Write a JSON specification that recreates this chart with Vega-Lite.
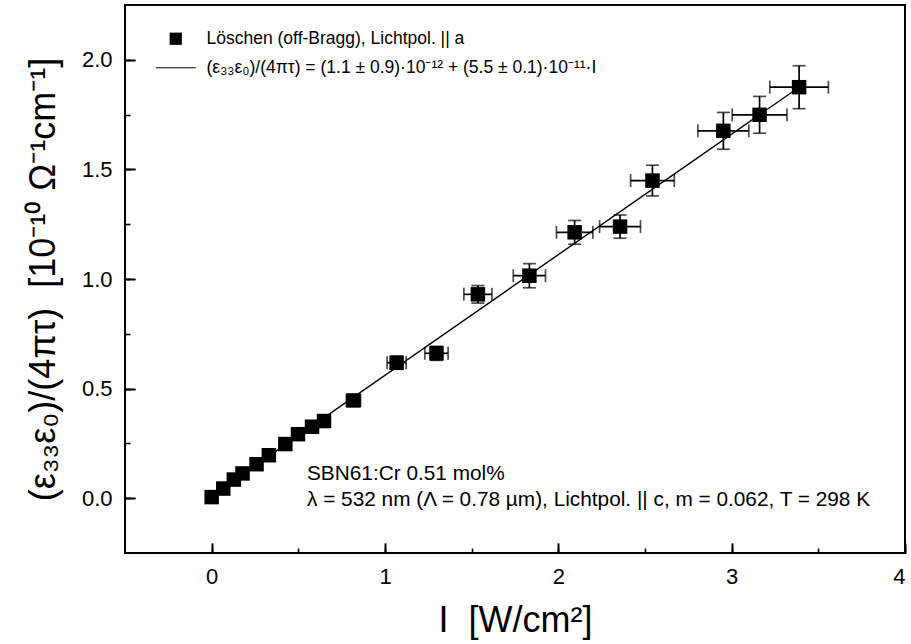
{
  "$schema": "https://vega.github.io/schema/vega-lite/v6.json",
  "width": 780,
  "height": 548,
  "autosize": {"type": "none"},
  "padding": {"left": 125, "top": 5, "right": 6, "bottom": 91},
  "background": "white",
  "config": {
    "view": {"stroke": "black", "strokeWidth": 2},
    "font": "Liberation Sans",
    "axis": {"grid": false, "domain": false, "labelColor": "black", "titleColor": "black", "labelFont": "Liberation Sans", "titleFont": "Liberation Sans", "titleFontWeight": "normal"}
  },
  "datasets": {
    "pts": [
      {"I": 0.000, "y": 0.005, "dI": 0.000, "dy": 0.001},
      {"I": 0.067, "y": 0.044, "dI": 0.003, "dy": 0.002},
      {"I": 0.128, "y": 0.085, "dI": 0.006, "dy": 0.004},
      {"I": 0.178, "y": 0.113, "dI": 0.009, "dy": 0.006},
      {"I": 0.259, "y": 0.155, "dI": 0.013, "dy": 0.008},
      {"I": 0.330, "y": 0.196, "dI": 0.017, "dy": 0.010},
      {"I": 0.425, "y": 0.247, "dI": 0.021, "dy": 0.012},
      {"I": 0.498, "y": 0.292, "dI": 0.025, "dy": 0.015},
      {"I": 0.579, "y": 0.326, "dI": 0.029, "dy": 0.016},
      {"I": 0.648, "y": 0.352, "dI": 0.032, "dy": 0.018},
      {"I": 0.818, "y": 0.446, "dI": 0.041, "dy": 0.022},
      {"I": 1.067, "y": 0.618, "dI": 0.055, "dy": 0.030},
      {"I": 1.297, "y": 0.661, "dI": 0.067, "dy": 0.032},
      {"I": 1.536, "y": 0.930, "dI": 0.081, "dy": 0.040},
      {"I": 1.833, "y": 1.015, "dI": 0.093, "dy": 0.055},
      {"I": 2.094, "y": 1.213, "dI": 0.105, "dy": 0.054},
      {"I": 2.356, "y": 1.239, "dI": 0.118, "dy": 0.053},
      {"I": 2.543, "y": 1.449, "dI": 0.126, "dy": 0.070},
      {"I": 2.952, "y": 1.676, "dI": 0.147, "dy": 0.084},
      {"I": 3.161, "y": 1.749, "dI": 0.158, "dy": 0.084},
      {"I": 3.389, "y": 1.875, "dI": 0.169, "dy": 0.098}
    ],
    "fit": [
      {"I": 0.0, "y": 0.011},
      {"I": 3.389, "y": 1.875}
    ],
    "notes": [
      {"I": 0.55, "y": 0.11, "text": "SBN61:Cr 0.51 mol%"},
      {"I": 0.55, "y": -0.008, "text": "λ = 532 nm (Λ = 0.78 µm), Lichtpol. || c, m = 0.062, T = 298 K"}
    ]
  },
  "layer": [
    {
      "data": {"name": "fit"},
      "mark": {"type": "line", "strokeWidth": 1.4, "color": "black"},
      "encoding": {
        "x": {"field": "I", "type": "quantitative", "scale": {"domain": [-0.5, 4], "nice": false, "zero": false},
          "axis": {"values": [0, 1, 2, 3, 4], "offset": -10, "tickSize": 10, "tickWidth": 1.6, "tickColor": "black", "labelFontSize": 22, "labelPadding": 13, "title": "I\u00a0\u00a0[W/cm²]", "titleFontSize": 36, "titlePadding": 16}},
        "y": {"field": "y", "type": "quantitative", "scale": {"domain": [-0.25, 2.25], "nice": false, "zero": false},
          "axis": {"values": [0, 0.5, 1, 1.5, 2], "format": ".1f", "offset": -10, "tickSize": 10, "tickWidth": 1.6, "tickColor": "black", "labelFontSize": 22, "labelPadding": 13, "title": "(ε₃₃ε₀)/(4πτ)\u00a0\u00a0[10⁻¹⁰ Ω⁻¹cm⁻¹]", "titleFontSize": 36, "titlePadding": 19}},
        "color": {"datum": "(ε₃₃ε₀)/(4πτ) = (1.1 ± 0.9)·10⁻¹² + (5.5 ± 0.1)·10⁻¹¹·I",
          "scale": {"domain": ["Löschen (off-Bragg), Lichtpol. || a", "(ε₃₃ε₀)/(4πτ) = (1.1 ± 0.9)·10⁻¹² + (5.5 ± 0.1)·10⁻¹¹·I"], "range": ["black", "black"]},
          "legend": {
            "orient": "none", "legendX": 42, "legendY": 25, "title": null, "padding": 0,
            "labelFontSize": 17.5, "labelFont": "Liberation Sans", "labelColor": "black", "labelLimit": 0,
            "symbolSize": 1600, "rowPadding": 10, "labelOffset": 22, "symbolStrokeWidth": 1.2,
            "encode": {"symbols": {"update": {
              "shape": {"signal": "datum.index === 0 ? 'square' : 'stroke'"},
              "size": {"signal": "datum.index === 0 ? 150 : 1600"},
              "fill": {"signal": "datum.index === 0 ? 'black' : 'transparent'"},
              "stroke": {"value": "black"},
              "strokeWidth": {"signal": "datum.index === 0 ? 0 : 1.2"},
              "opacity": {"value": 1}
            }}}
          }}
      }
    },
    {
      "data": {"name": "pts"},
      "mark": {"type": "errorbar", "ticks": {"size": 13, "thickness": 1.7, "color": "black"}, "rule": {"strokeWidth": 1.7, "color": "black"}, "color": "black"},
      "encoding": {
        "x": {"field": "I", "type": "quantitative", "axis": null},
        "xError": {"field": "dI"},
        "y": {"field": "y", "type": "quantitative", "axis": null}
      }
    },
    {
      "data": {"name": "pts"},
      "mark": {"type": "errorbar", "ticks": {"size": 13, "thickness": 1.7, "color": "black"}, "rule": {"strokeWidth": 1.7, "color": "black"}, "color": "black"},
      "encoding": {
        "x": {"field": "I", "type": "quantitative", "axis": null},
        "y": {"field": "y", "type": "quantitative", "axis": null},
        "yError": {"field": "dy"}
      }
    },
    {
      "data": {"name": "pts"},
      "mark": {"type": "point", "shape": "square", "filled": true, "size": 210, "opacity": 1},
      "encoding": {
        "x": {"field": "I", "type": "quantitative",
          "axis": {"orient": "bottom", "values": [0, 1, 2, 3, 4], "offset": 0, "tickSize": -10, "tickWidth": 1.6, "tickColor": "black", "labels": false, "title": null}},
        "y": {"field": "y", "type": "quantitative",
          "axis": {"orient": "left", "values": [0, 0.5, 1, 1.5, 2], "offset": 0, "tickSize": -10, "tickWidth": 1.6, "tickColor": "black", "labels": false, "title": null}},
        "color": {"datum": "Löschen (off-Bragg), Lichtpol. || a"}
      }
    },
    {
      "data": {"name": "notes"},
      "mark": {"type": "text", "align": "left", "baseline": "middle", "fontSize": 20.8, "font": "Liberation Sans", "color": "black"},
      "encoding": {
        "x": {"field": "I", "type": "quantitative",
          "axis": {"orient": "bottom", "values": [0, 0.5, 1, 1.5, 2, 2.5, 3, 3.5, 4], "offset": -5, "tickSize": 5, "tickWidth": 1.6, "tickColor": "black", "labels": false, "title": null}},
        "y": {"field": "y", "type": "quantitative",
          "axis": {"orient": "left", "values": [0, 0.25, 0.5, 0.75, 1, 1.25, 1.5, 1.75, 2], "offset": -5, "tickSize": 5, "tickWidth": 1.6, "tickColor": "black", "labels": false, "title": null}},
        "text": {"field": "text"}
      }
    }
  ],
  "resolve": {"axis": {"x": "independent", "y": "independent"}}
}
